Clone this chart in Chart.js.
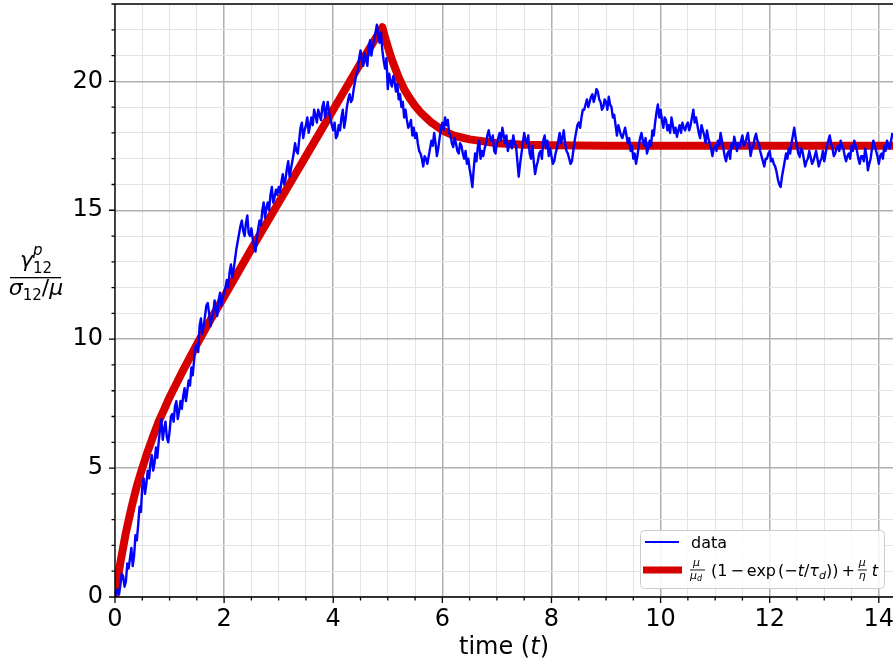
<!DOCTYPE html>
<html>
<head>
<meta charset="utf-8">
<script src="https://cdn.jsdelivr.net/npm/chart.js@4.4.1/dist/chart.umd.min.js"></script>
<style>
    html, body { margin: 0; padding: 0; background: #fff; }
    canvas { display: block; }
</style>
</head>
<body>
<canvas id="chart" width="893" height="664"></canvas>
<script>
// axis ranges and labelled ticks
const xTickLabels = [0, 2, 4, 6, 8, 10, 12, 14];
const yTickLabels = [0, 5, 10, 15, 20];
const X_MAX = 14.26;
const Y_MAX = 23;

// measured strain, sampled every 0.025 time units from t = 0 (one row per time unit)
const dataStart = 0;
const dataStep = 0.025;
const dataValues = [
    0.0, 0.2, 0.3, 0.1, 0.5, 0.9, 0.8, 0.4, 0.6, 1.3, 1.1, 1.5, 1.9, 1.2, 1.6, 2.4, 2.2, 2.8, 3.5, 3.3, 4.3, 4.6, 4.0, 4.4, 4.9, 4.6, 5.2, 5.5, 4.9, 5.2, 5.8, 5.4, 6.0, 6.5, 6.9, 6.1, 6.5, 6.8, 6.2, 6.0,
    6.4, 7.0, 7.1, 6.8, 7.4, 7.6, 6.9, 7.2, 7.6, 7.3, 7.8, 8.1, 7.6, 8.0, 8.4, 8.2, 8.9, 8.6, 9.2, 9.7, 9.8, 9.5, 10.5, 10.8, 10.2, 10.5, 10.9, 11.3, 11.4, 11.0, 10.5, 10.8, 11.0, 11.5, 11.2, 10.9, 11.5, 11.8, 11.3, 11.6,
    11.8, 12.0, 12.3, 12.0, 12.6, 12.9, 12.4, 12.7, 13.1, 13.5, 13.8, 14.1, 14.4, 14.6, 14.2, 14.0, 14.5, 14.8, 14.1, 14.0, 14.3, 13.9, 13.6, 13.4, 13.9, 14.3, 14.6, 14.4, 15.0, 15.3, 14.7, 15.1, 15.3, 15.0, 15.6, 15.9, 15.3, 15.5, 15.8, 15.6,
    15.9, 15.7, 16.1, 16.4, 16.0, 16.2, 16.6, 16.9, 16.3, 16.6, 16.9, 17.2, 17.6, 17.3, 17.2, 17.7, 18.2, 18.4, 17.8, 18.1, 18.3, 18.6, 18.0, 18.3, 18.6, 18.3, 18.9, 18.7, 18.4, 18.9, 18.7, 18.5, 19.0, 19.2, 18.6, 18.9, 19.2, 18.8, 18.5, 18.3,
    18.1, 18.4, 17.8, 17.9, 18.3, 18.1, 18.6, 18.9, 18.2, 18.5, 19.0, 19.3, 19.5, 19.2, 19.3, 19.7, 20.0, 20.3, 20.4, 20.9, 21.2, 20.8, 20.6, 21.1, 20.9, 20.6, 21.3, 21.6, 21.0, 21.4, 21.6, 21.9, 22.2, 21.8, 21.5, 21.9, 21.2, 20.8, 20.5, 20.9,
    19.7, 20.3, 20.0, 19.8, 20.2, 20.0, 19.6, 19.9, 19.3, 19.5, 19.0, 19.2, 18.6, 18.9, 18.5, 18.2, 18.3, 18.5, 17.9, 18.2, 17.8, 18.0, 17.6, 17.3, 17.2, 17.0, 16.7, 17.1, 17.0, 16.8, 17.1, 17.4, 17.7, 17.5, 18.0, 17.6, 17.1, 17.4, 17.8, 18.2,
    18.4, 18.1, 18.6, 18.3, 18.5, 18.0, 17.9, 17.6, 17.45, 17.8, 17.6, 17.3, 17.2, 17.6, 17.5, 17.2, 17.0, 17.3, 16.8, 17.0, 16.6, 16.3, 15.9, 16.6, 17.2, 16.9, 17.45, 17.7, 17.0, 17.3, 17.1, 17.4, 17.6, 17.9, 18.1, 17.8, 17.7, 17.9, 17.3, 17.2,
    17.6, 17.8, 18.0, 17.7, 18.2, 17.9, 17.6, 17.9, 17.3, 17.5, 17.7, 17.4, 17.9, 17.6, 17.5, 16.9, 16.3, 16.8, 17.2, 17.6, 18.0, 17.7, 17.6, 17.9, 17.2, 17.0, 17.5, 16.9, 16.4, 16.7, 16.9, 17.2, 17.3, 17.0, 17.7, 17.9, 17.4, 17.7, 17.1, 17.4,
    17.1, 16.8, 16.9, 17.2, 17.4, 17.7, 18.0, 17.6, 17.8, 18.1, 17.6, 17.3, 17.2, 17.0, 16.8, 16.9, 17.3, 17.7, 18.0, 18.3, 18.4, 18.2, 18.6, 18.9, 18.9, 19.1, 19.3, 19.0, 19.2, 19.4, 19.5, 19.2, 19.4, 19.7, 19.6, 19.3, 19.2, 18.9, 19.0, 19.3,
    19.2, 18.9, 19.4, 19.1, 19.0, 18.6, 18.7, 18.3, 17.9, 18.3, 18.1, 17.9, 17.8, 18.0, 18.2, 17.9, 17.6, 17.8, 17.3, 17.5, 17.0, 17.2, 16.8, 17.1, 17.5, 17.8, 18.0, 17.7, 17.5, 17.8, 17.2, 17.4, 17.7, 17.5, 18.1, 17.9, 18.4, 18.8, 19.1, 18.6,
    18.9, 18.5, 18.2, 18.6, 18.5, 18.1, 18.3, 18.0, 18.6, 18.3, 18.0, 18.2, 17.85, 18.1, 18.3, 18.0, 18.4, 18.2, 18.1, 18.3, 18.4, 18.1, 18.3, 18.6, 18.9, 18.4, 18.6, 18.3, 18.0, 17.8, 18.3, 18.1, 17.9, 17.6, 18.1, 17.8, 17.6, 17.4, 17.1, 17.4,
    17.5, 17.3, 17.7, 17.5, 18.0, 17.7, 17.4, 17.1, 16.9, 17.2, 17.3, 17.0, 17.6, 17.4, 17.85, 17.6, 17.3, 17.6, 17.45, 17.7, 17.9, 17.5, 17.6, 17.8, 18.0, 17.6, 17.1, 17.4, 17.5, 17.8, 17.97, 17.7, 17.6, 17.3, 17.1, 16.9, 16.7, 17.0, 17.0, 17.2,
    17.3, 16.9, 17.0, 16.8, 16.7, 16.5, 16.2, 16.0, 15.9, 16.3, 16.6, 16.9, 17.2, 17.0, 17.4, 17.2, 17.6, 17.9, 18.2, 17.8, 17.5, 17.2, 17.07, 17.4, 17.3, 17.0, 16.7, 16.9, 17.0, 17.3, 17.07, 16.8, 16.9, 17.1, 17.3, 17.0, 16.7, 16.9, 17.0, 17.3,
    16.9, 17.2, 17.5, 17.7, 17.9, 17.6, 17.4, 17.1, 17.2, 17.4, 17.5, 17.3, 17.7, 17.5, 17.4, 17.1, 16.9, 17.1, 17.2, 17.0, 17.5, 17.3, 17.7, 17.5, 17.3, 17.0, 16.8, 17.1, 17.1, 16.9, 17.4, 17.1, 16.55, 16.8, 17.0, 17.4, 17.7, 17.5, 17.3, 17.1,
    16.8, 17.1, 17.2, 17.0, 17.5, 17.3, 17.7, 17.5, 17.4, 17.7, 18.0
];

// model curve: loading up to t = 4.9, then relaxation
const fitTimes = [0, 0.05, 0.1, 0.2, 0.3, 0.4, 0.5, 0.6, 0.7, 0.8, 0.9, 1.0, 1.25, 1.5, 1.75, 2.0, 2.5, 3.0, 3.5, 4.0, 4.5, 4.9,
    4.95, 5.0, 5.05, 5.1, 5.2, 5.3, 5.4, 5.5, 5.6, 5.8, 6.0, 6.2, 6.5, 7.0, 7.5, 8.0, 9.0, 10, 11, 12, 13, 14.26];
const fitValues = [0, 0.7, 1.35, 2.5, 3.45, 4.3, 5.0, 5.65, 6.24, 6.8, 7.27, 7.75, 8.8, 9.8, 10.75, 11.65, 13.5, 15.3, 17.1, 18.9, 20.7, 22.1,
    21.7, 21.35, 21.0, 20.7, 20.15, 19.7, 19.35, 19.05, 18.8, 18.4, 18.1, 17.9, 17.75, 17.6, 17.54, 17.52, 17.5, 17.5, 17.5, 17.5, 17.5, 17.5];

const FONT = "'DejaVu Sans', sans-serif";
const BLUE = '#0000ff';
const RED = '#d60000';

const dataPoints = dataValues.map((v, i) => ({ x: +(dataStart + i * dataStep).toFixed(3), y: v }));
const fitPoints = fitTimes.map((t, i) => ({ x: t, y: fitValues[i] }));

function isMajor(v, step) {
    return Math.abs(v / step - Math.round(v / step)) < 1e-6;
}

function stepTicks(max, step) {
    const ticks = [];
    for (let i = 0; i * step <= max + 1e-9; i++) ticks.push({ value: +(i * step).toFixed(3) });
    return ticks;
}

// draws a list of text runs left to right, returns the end x
function drawRuns(ctx, x, y, runs) {
    runs.forEach(r => {
        ctx.font = `${r.italic ? 'italic ' : ''}${r.size}px ${FONT}`;
        ctx.fillText(r.text, x + (r.dx || 0), y + (r.dy || 0));
        x += ctx.measureText(r.text).width + (r.dx || 0) + (r.gap || 0);
    });
    return x;
}

function runsWidth(ctx, runs) {
    let w = 0;
    runs.forEach(r => {
        ctx.font = `${r.italic ? 'italic ' : ''}${r.size}px ${FONT}`;
        w += ctx.measureText(r.text).width + (r.dx || 0) + (r.gap || 0);
    });
    return w;
}

const decorations = {
    id: 'decorations',
    afterDatasetsDraw(chart) {
        const { ctx, chartArea: a, scales: { x, y } } = chart;
        ctx.save();
        ctx.strokeStyle = '#000';
        ctx.lineWidth = 1.3;
        ctx.beginPath();
        ctx.moveTo(a.right, a.top);
        ctx.lineTo(a.left, a.top);
        ctx.lineTo(a.left, a.bottom);
        ctx.lineTo(a.right, a.bottom);
        x.ticks.forEach(t => {
            const px = x.getPixelForValue(t.value);
            const len = isMajor(t.value, 2) ? 6 : 3.5;
            ctx.moveTo(px, a.bottom);
            ctx.lineTo(px, a.bottom + len);
        });
        y.ticks.forEach(t => {
            const py = y.getPixelForValue(t.value);
            const len = isMajor(t.value, 5) ? 6 : 3.5;
            ctx.moveTo(a.left, py);
            ctx.lineTo(a.left - len, py);
        });
        ctx.stroke();
        ctx.restore();
    },
    afterDraw(chart) {
        const { ctx, chartArea: a } = chart;
        ctx.save();
        ctx.fillStyle = '#000';
        ctx.textBaseline = 'alphabetic';

        // x axis title: time (t)
        const xRuns = [
            { text: 'time (', size: 24 },
            { text: 't', size: 24, italic: true },
            { text: ')', size: 24 }
        ];
        drawRuns(ctx, (a.left + a.right) / 2 - runsWidth(ctx, xRuns) / 2, 654, xRuns);

        // y axis title as a fraction
        const cx = 36;
        ctx.font = `italic 22px ${FONT}`;
        const gw = ctx.measureText('\u03b3').width;
        ctx.font = `15px ${FONT}`;
        const sw = ctx.measureText('12').width;
        const nx = cx - (gw + sw) / 2;
        drawRuns(ctx, nx, 267, [{ text: '\u03b3', size: 22, italic: true }]);
        drawRuns(ctx, nx + gw, 255, [{ text: 'p', size: 15, italic: true }]);
        drawRuns(ctx, nx + gw, 273, [{ text: '12', size: 15 }]);
        ctx.fillRect(10, 277, 51, 1.3);
        const den = [
            { text: '\u03c3', size: 22, italic: true },
            { text: '12', size: 15, dy: 5 },
            { text: '/', size: 22 },
            { text: '\u03bc', size: 22, italic: true }
        ];
        drawRuns(ctx, cx - runsWidth(ctx, den) / 2, 295, den);

        // legend
        const lx = 640.5, ly = 530.5, lw = 244, lh = 58;
        ctx.beginPath();
        ctx.roundRect(lx, ly, lw, lh, 4);
        ctx.fillStyle = 'rgba(255,255,255,0.85)';
        ctx.fill();
        ctx.strokeStyle = '#cccccc';
        ctx.lineWidth = 1;
        ctx.stroke();

        ctx.lineCap = 'butt';
        ctx.strokeStyle = BLUE;
        ctx.lineWidth = 2;
        ctx.beginPath();
        ctx.moveTo(645, 542);
        ctx.lineTo(679, 542);
        ctx.stroke();
        ctx.strokeStyle = RED;
        ctx.lineWidth = 7;
        ctx.beginPath();
        ctx.moveTo(643, 570);
        ctx.lineTo(682, 570);
        ctx.stroke();

        ctx.fillStyle = '#000';
        ctx.font = `16px ${FONT}`;
        ctx.fillText('data', 691, 548);

        // mu / mu_d
        const fx = 690;
        drawRuns(ctx, fx + 3, 566, [{ text: '\u03bc', size: 11, italic: true }]);
        ctx.fillRect(fx, 569.5, 15, 0.9);
        drawRuns(ctx, fx, 579, [
            { text: '\u03bc', size: 11, italic: true },
            { text: 'd', size: 8, italic: true, dy: 2 }
        ]);
        const ex = drawRuns(ctx, fx + 21, 576, [
            { text: '(1', size: 16, gap: 3 },
            { text: '\u2212', size: 16, gap: 3 },
            { text: 'exp', size: 16, gap: 2 },
            { text: '(\u2212', size: 16 },
            { text: 't', size: 16, italic: true },
            { text: '/', size: 16 },
            { text: '\u03c4', size: 16, italic: true },
            { text: 'd', size: 11, italic: true, dy: 3 },
            { text: '))', size: 16, gap: 3 },
            { text: '+', size: 16, gap: 3 }
        ]);
        // mu / eta
        drawRuns(ctx, ex + 1, 566, [{ text: '\u03bc', size: 11, italic: true }]);
        ctx.fillRect(ex, 569.5, 9, 0.9);
        drawRuns(ctx, ex + 1, 579, [{ text: '\u03b7', size: 11, italic: true }]);
        drawRuns(ctx, ex + 14, 576, [{ text: 't', size: 16, italic: true }]);
        ctx.restore();
    }
};

new Chart(document.getElementById('chart'), {
    type: 'line',
    data: {
        datasets: [
            {
                label: 'data',
                data: dataPoints,
                borderColor: BLUE,
                borderWidth: 2.4,
                pointRadius: 0,
                tension: 0,
                borderJoinStyle: 'round',
                clip: 0
            },
            {
                label: 'fit',
                data: fitPoints,
                borderColor: RED,
                borderWidth: 8,
                pointRadius: 0,
                tension: 0,
                borderJoinStyle: 'round',
                clip: 0
            }
        ]
    },
    options: {
        responsive: false,
        animation: false,
        devicePixelRatio: 1,
        layout: { padding: { top: 4, right: 0, left: 0, bottom: 0 } },
        plugins: {
            legend: { display: false },
            tooltip: { enabled: false }
        },
        scales: {
            x: {
                type: 'linear',
                min: 0,
                max: X_MAX,
                afterBuildTicks: s => { s.ticks = stepTicks(X_MAX, 0.5); },
                afterFit: s => { s.height = 67; s.paddingLeft = 0; s.paddingRight = 0; },
                border: { display: false },
                grid: {
                    drawTicks: false,
                    color: c => (c.tick && isMajor(c.tick.value, 2)) ? '#b0b0b0' : '#e4e4e4',
                    lineWidth: c => (c.tick && isMajor(c.tick.value, 2)) ? 1.5 : 1
                },
                ticks: {
                    autoSkip: false,
                    maxRotation: 0,
                    padding: 8,
                    color: '#000',
                    font: { family: FONT, size: 24 },
                    callback: v => xTickLabels.includes(v) ? String(v) : ''
                }
            },
            y: {
                type: 'linear',
                min: 0,
                max: Y_MAX,
                afterBuildTicks: s => { s.ticks = stepTicks(Y_MAX, 1); },
                afterFit: s => { s.width = 115; s.paddingTop = 0; s.paddingBottom = 0; },
                border: { display: false },
                grid: {
                    drawTicks: false,
                    color: c => (c.tick && isMajor(c.tick.value, 5)) ? '#b0b0b0' : '#e4e4e4',
                    lineWidth: c => (c.tick && isMajor(c.tick.value, 5)) ? 1.5 : 1
                },
                ticks: {
                    autoSkip: false,
                    padding: 12,
                    color: '#000',
                    font: { family: FONT, size: 24 },
                    callback: v => yTickLabels.includes(v) ? String(v) : ''
                }
            }
        }
    },
    plugins: [decorations]
});
</script>
</body>
</html>
